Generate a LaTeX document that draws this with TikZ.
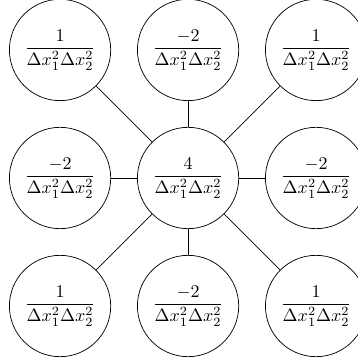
\documentclass[tikz,border=0pt]{standalone}
\usepackage{amsmath}
\begin{document}
\begin{tikzpicture}[
  cell/.style={draw, circle, minimum size=56.3pt, inner sep=1pt},
  link/.style={draw}
]
\useasboundingbox (-104.5pt,-102.8pt) rectangle (94.4pt,98.9pt);
\def\den{\Delta x_1^2\Delta x_2^2}
\node[cell] (nw) at (-2.5,2.5) {$\dfrac{1}{\den}$};
\node[cell] (n) at (0,2.5) {$\dfrac{-2}{\den}$};
\node[cell] (ne) at (2.5,2.5) {$\dfrac{1}{\den}$};
\node[cell] (w) at (-2.5,0) {$\dfrac{-2}{\den}$};
\node[cell] (c) at (0,0) {$\dfrac{4}{\den}$};
\node[cell] (e) at (2.5,0) {$\dfrac{-2}{\den}$};
\node[cell] (sw) at (-2.5,-2.5) {$\dfrac{1}{\den}$};
\node[cell] (s) at (0,-2.5) {$\dfrac{-2}{\den}$};
\node[cell] (se) at (2.5,-2.5) {$\dfrac{1}{\den}$};
\foreach \t in {nw,n,ne,w,e,sw,s,se}{
  \draw[link] (c) -- (\t);
}
\end{tikzpicture}
\end{document}
